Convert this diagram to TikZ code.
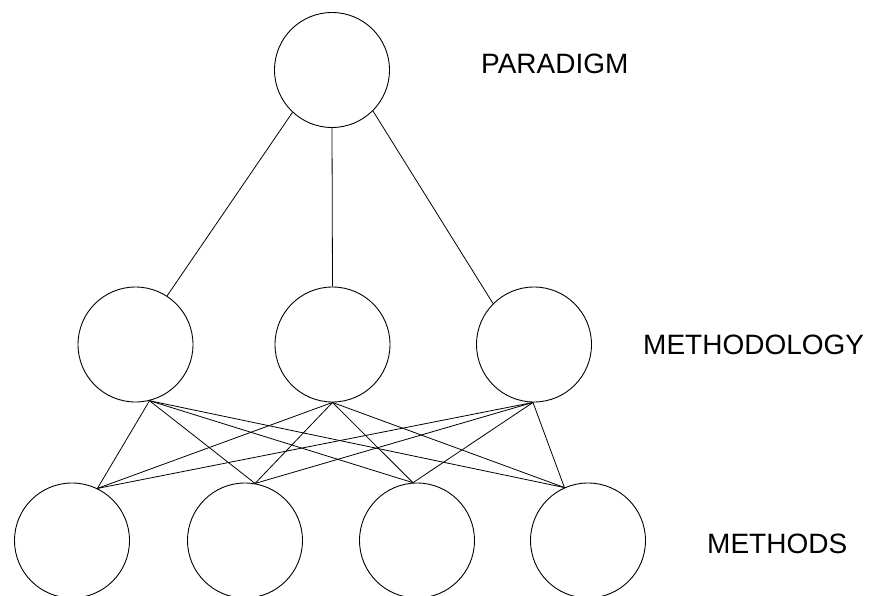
\documentclass[tikz,border=0pt]{standalone}
\usepackage{fontspec}
\setmainfont{Liberation Sans}
\begin{document}
\begin{tikzpicture}[x=1pt,y=-1pt,
  unit/.style={circle,draw,line width=0.9pt,minimum size=115pt,inner sep=0pt},
  link/.style={line width=0.8pt},
  level/.style={anchor=base west,inner sep=0pt,font=\fontsize{28}{34}\selectfont}]
  \clip (0,0) rectangle (870,596);
  \useasboundingbox (0,0) rectangle (870,596);

  % paradigm
  \node[unit] (p) at (332,70) {};
  % methodologies
  \node[unit] (m1) at (135.5,344.5) {};
  \node[unit] (m2) at (332.5,344.5) {};
  \node[unit] (m3) at (534,344.5) {};
  % methods
  \node[unit] (b1) at (72,540.5) {};
  \node[unit] (b2) at (245,540.5) {};
  \node[unit] (b3) at (417,540.5) {};
  \node[unit] (b4) at (588,540.5) {};

  % labels
  \node[level] (lp) at (481,74) {PARADIGM};
  \node[level] (lm) at (643,354) {METHODOLOGY};
  \node[level] (lb) at (707,553) {METHODS};

  % paradigm to methodologies
  \draw[link] (p.-133) -- (m1.57);
  \draw[link] (p.-90) -- (m2.90);
  \draw[link] (p.-45) -- (m3.135);

  % methodologies to methods
  \foreach \m/\a in {m1/-76, m2/-90, m3/-91}{
    \draw[link] (\m.\a) -- (b1.64);
    \draw[link] (\m.\a) -- (b2.80);
    \draw[link] (\m.\a) -- (b3.94);
    \draw[link] (\m.\a) -- (b4.114);
  }
\end{tikzpicture}
\end{document}
